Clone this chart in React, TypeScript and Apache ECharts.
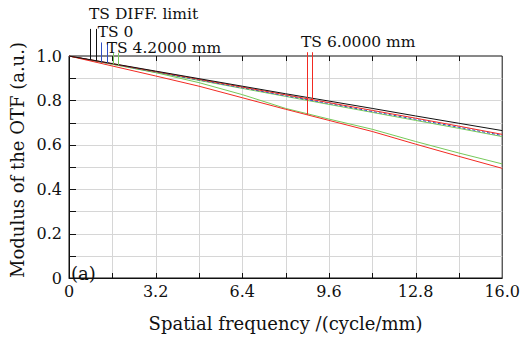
import React, { useEffect, useRef } from "react";
import * as echarts from "echarts";

// Spatial frequency (cycle/mm)
const freq = [0, 1.6, 3.2, 4.8, 6.4, 8.0, 9.6, 11.2, 12.8, 14.4, 16.0];
// MTF curves
const diffLimit = [1.0, 0.966, 0.932, 0.898, 0.864, 0.830, 0.797, 0.764, 0.730, 0.697, 0.664];
const redUpper = [1.0, 0.965, 0.930, 0.895, 0.860, 0.825, 0.790, 0.755, 0.720, 0.684, 0.647];
const blueField0 = [1.0, 0.964, 0.928, 0.892, 0.857, 0.821, 0.786, 0.750, 0.715, 0.679, 0.642];
const greenUpper = [1.0, 0.963, 0.926, 0.890, 0.854, 0.818, 0.782, 0.746, 0.710, 0.674, 0.637];
const greenLower = [1.0, 0.963, 0.925, 0.880, 0.826, 0.764, 0.716, 0.670, 0.615, 0.563, 0.514];
const redLower = [1.0, 0.955, 0.910, 0.864, 0.812, 0.760, 0.710, 0.660, 0.603, 0.548, 0.494];

// Grid / tick positions
const xGridValues = [0, 1.6, 3.2, 4.8, 6.4, 8.0, 9.6, 11.2, 12.8, 14.4, 16.0];
const yGridValues = [0, 0.1, 0.2, 0.3, 0.4, 0.5, 0.6, 0.7, 0.8, 0.9, 1.0];

// Marker annotations: frequency, top value, and which curve they end on
const markerFreqs = [0.78, 1.0, 1.18, 1.4, 1.62, 1.8, 8.8, 8.98];
const markerTops = [1.122, 1.122, 1.061, 1.061, 1.013, 1.013, 1.017, 1.017];
const markerCurves = ["black", "black", "blue", "blue", "green", "green", "redLower", "redUpper"];

const labelTexts = ["TS DIFF. limit", "TS 0", "TS 4.2000 mm", "TS 6.0000 mm"];
const labelFreqs = [0.74, 1.06, 1.39, 8.57];
const labelValues = [1.188, 1.11, 1.036, 1.061];

const COLORS: Record<string, string> = {
  black: "#111111",
  blue: "#2f4fc4",
  green: "#76c95a",
  redUpper: "#f22a22",
  redLower: "#f22a22",
};

const curveData: Record<string, number[]> = {
  black: diffLimit,
  blue: blueField0,
  green: greenUpper,
  redUpper: redUpper,
  redLower: redLower,
};

function interp(arr: number[], f: number): number {
  for (let i = 0; i < freq.length - 1; i++) {
    if (f >= freq[i] && f <= freq[i + 1]) {
      const t = (f - freq[i]) / (freq[i + 1] - freq[i]);
      return arr[i] + t * (arr[i + 1] - arr[i]);
    }
  }
  return arr[arr.length - 1];
}

const FONT = "DejaVu Serif";
const GRID = "#d6d6d6";
const X_MIN = 0, X_MAX = 16, Y_MIN = 0, Y_MAX = 1;

export default function App() {
  const ref = useRef<HTMLDivElement>(null);
  useEffect(() => {
    if (!ref.current) return;
    const chart = echarts.init(ref.current, null, { renderer: "svg" });
    const pair = (arr: number[]) => freq.map((f, i) => [f, arr[i]]);
    const lineSeries = (name: string, arr: number[], color: string, dashed = false, z = 2) => ({
      name,
      type: "line",
      data: pair(arr),
      showSymbol: false,
      symbol: "none",
      z,
      lineStyle: { color, width: 1, type: dashed ? [3, 2] : "solid" },
    });

    const markerData = markerFreqs.map((f, i) => [
      f,
      markerTops[i],
      interp(curveData[markerCurves[i]], f),
      i,
    ]);
    const labelData = labelFreqs.map((f, i) => [f, labelValues[i], i]);
    // [value, orientation]: 0 = vertical line at x value, 1 = horizontal line at y value
    const gridData = [
      ...xGridValues.map((v) => [v, 0]),
      ...yGridValues.map((v) => [v, 1]),
    ];

    const fmtX = (v: number) => {
      const k = Math.round(v / 1.6);
      if (k % 2 !== 0) return "";
      return k === 0 ? "0" : (k * 1.6).toFixed(1);
    };
    const fmtY = (v: number) => {
      const k = Math.round(v * 10);
      if (k % 2 !== 0) return "";
      return k === 0 ? "0" : (k / 10).toFixed(1);
    };

    chart.setOption({
      animation: false,
      backgroundColor: "#ffffff",
      grid: {
        left: 69,
        right: 18,
        top: 56,
        bottom: 51,
        containLabel: false,
        show: true,
        borderColor: "#111",
        borderWidth: 1,
        backgroundColor: "transparent",
      },
      xAxis: {
        type: "value",
        min: X_MIN,
        max: X_MAX,
        interval: 1.6,
        name: "Spatial frequency /(cycle/mm)",
        nameLocation: "middle",
        nameGap: 36,
        nameTextStyle: { fontFamily: FONT, fontSize: 18, color: "#111" },
        axisLine: { show: true, onZero: false, lineStyle: { color: "#111", width: 1 } },
        axisTick: { show: false },
        splitLine: { show: false },
        axisLabel: { fontFamily: FONT, fontSize: 16, color: "#111", margin: 5, formatter: fmtX },
      },
      yAxis: {
        type: "value",
        min: Y_MIN,
        max: Y_MAX,
        interval: 0.1,
        axisLine: { show: true, onZero: false, lineStyle: { color: "#111", width: 1 } },
        axisTick: { show: false },
        splitLine: { show: false },
        axisLabel: { fontFamily: FONT, fontSize: 16, color: "#111", margin: 7, formatter: fmtY },
      },
      graphic: [
        {
          type: "text",
          x: 17,
          y: 160,
          rotation: Math.PI / 2,
          style: {
            text: "Modulus of the OTF (a.u.)",
            fontFamily: FONT,
            fontSize: 18,
            fill: "#111",
            textAlign: "center",
            textVerticalAlign: "middle",
          },
        },
        {
          type: "text",
          left: 71,
          top: 264,
          z: 100,
          style: {
            text: "(a)",
            fontFamily: FONT,
            fontSize: 18,
            fill: "#111",
          },
        },
      ],
      series: [
        {
          type: "custom",
          name: "gridlines",
          data: gridData,
          clip: false,
          z: 1,
          silent: true,
          renderItem: (params: any, api: any) => {
            const v = api.value(0);
            const vertical = api.value(1) === 0;
            const children: any[] = [];
            if (vertical) {
              const p0 = api.coord([v, Y_MIN]);
              const p1 = api.coord([v, Y_MAX]);
              const x = Math.round(p0[0]) + 0.5;
              const interior = v > X_MIN && v < X_MAX;
              if (interior) {
                children.push({
                  type: "line",
                  shape: { x1: x, y1: p1[1], x2: x, y2: p0[1] },
                  style: { stroke: GRID, lineWidth: 1 },
                });
                children.push({
                  type: "line",
                  shape: { x1: x, y1: p0[1], x2: x, y2: p0[1] - 5 },
                  style: { stroke: "#111", lineWidth: 1 },
                });
                children.push({
                  type: "line",
                  shape: { x1: x, y1: p1[1], x2: x, y2: p1[1] + 5 },
                  style: { stroke: "#111", lineWidth: 1 },
                });
              }
            } else {
              const p0 = api.coord([X_MIN, v]);
              const p1 = api.coord([X_MAX, v]);
              const y = Math.round(p0[1]) + 0.5;
              const interior = v > Y_MIN && v < Y_MAX;
              if (interior) {
                children.push({
                  type: "line",
                  shape: { x1: p0[0], y1: y, x2: p1[0], y2: y },
                  style: { stroke: GRID, lineWidth: 1 },
                });
                children.push({
                  type: "line",
                  shape: { x1: p0[0], y1: y, x2: p0[0] + 7, y2: y },
                  style: { stroke: "#111", lineWidth: 1 },
                });
              }
            }
            return { type: "group", children };
          },
        },
        lineSeries("TS 4.2000 mm S", greenUpper, COLORS.green, false, 2),
        lineSeries("TS 0", blueField0, COLORS.blue, true, 3),
        lineSeries("TS 6.0000 mm S", redUpper, COLORS.redUpper, false, 4),
        lineSeries("TS DIFF. limit", diffLimit, COLORS.black, false, 5),
        lineSeries("TS 4.2000 mm T", greenLower, COLORS.green, false, 2),
        lineSeries("TS 6.0000 mm T", redLower, COLORS.redLower, false, 3),
        {
          type: "custom",
          name: "markers",
          data: markerData,
          clip: false,
          z: 6,
          renderItem: (params: any, api: any) => {
            const f = api.value(0);
            const top = api.coord([f, api.value(1)]);
            const bottom = api.coord([f, api.value(2)]);
            const idx = api.value(3);
            const x = Math.round(top[0]) + 0.5;
            return {
              type: "line",
              shape: { x1: x, y1: top[1], x2: x, y2: bottom[1] },
              style: { stroke: COLORS[markerCurves[idx]], lineWidth: 1 },
            };
          },
        },
        {
          type: "custom",
          name: "marker labels",
          data: labelData,
          clip: false,
          z: 7,
          renderItem: (params: any, api: any) => {
            const p = api.coord([api.value(0), api.value(1)]);
            const idx = api.value(2);
            return {
              type: "text",
              x: p[0],
              y: p[1],
              style: {
                text: labelTexts[idx],
                fontFamily: FONT,
                fontSize: 15.5,
                lineHeight: 15,
                fill: "#111",
                textAlign: "left",
                textVerticalAlign: "middle",
              },
            };
          },
        },
      ],
    });
    return () => chart.dispose();
  }, []);
  return (
    <div
      ref={ref}
      style={{ position: "fixed", left: 0, top: 0, width: 523, height: 337, background: "#fff" }}
    />
  );
}
